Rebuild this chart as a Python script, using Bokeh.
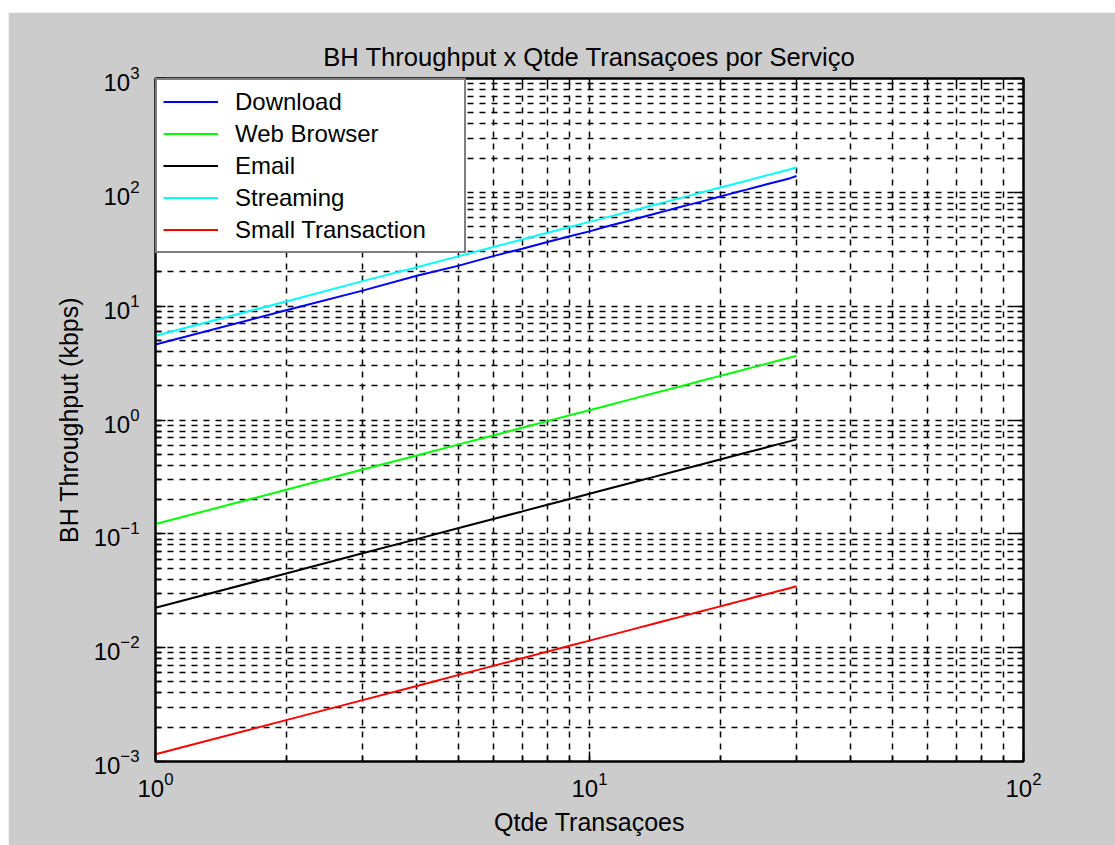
from bokeh.plotting import figure
from bokeh.layouts import column, row
from bokeh.models import LogAxis, FixedTicker, Legend, LegendItem, CustomJSTickFormatter, Spacer
from bokeh.embed import file_html
from bokeh.resources import INLINE

# ---------------- data ----------------
transacoes = list(range(1, 31))
download = [4.6, 9.2, 13.7, 18.5, 22.7, 27.5, 32.0, 36.6, 41.1, 45.4, 50.3, 54.8, 59.6, 64.1, 68.7,
            73.5, 78.0, 82.4, 87.2, 91.8, 96.5, 101.0, 105.6, 110.3, 114.8, 119.5, 124.0, 128.5, 133.2, 139.0]
web_browser = [0.122, 0.244, 0.367, 0.488, 0.611, 0.732, 0.855, 0.977, 1.10, 1.22, 1.343, 1.465, 1.588, 1.71, 1.83,
               1.953, 2.075, 2.198, 2.32, 2.44, 2.563, 2.685, 2.808, 2.93, 3.05, 3.173, 3.295, 3.418, 3.54, 3.67]
email = [0.0224, 0.0449, 0.0675, 0.0899, 0.1124, 0.1351, 0.1574, 0.1799, 0.2026, 0.2249, 0.2474, 0.2701, 0.2923,
         0.3149, 0.3376, 0.3598, 0.3824, 0.4051, 0.4273, 0.4498, 0.4726, 0.4949, 0.5173, 0.5401, 0.5623, 0.5849,
         0.6076, 0.6299, 0.6522, 0.6760]
streaming = [5.5, 11.0, 16.6, 22.0, 27.5, 33.1, 38.5, 44.1, 49.6, 55.0, 60.6, 66.0, 71.5, 77.1, 82.5,
             88.0, 93.6, 99.0, 104.6, 110.1, 115.5, 121.0, 126.6, 132.0, 137.6, 143.0, 148.5, 154.1, 159.5, 165.5]
small_transaction = [0.00116, 0.00231, 0.00346, 0.00461, 0.00577, 0.00692, 0.00807, 0.00923, 0.01038, 0.01153,
                     0.01269, 0.01384, 0.01499, 0.01614, 0.0173, 0.01845, 0.0196, 0.02076, 0.02191, 0.02306,
                     0.02422, 0.02537, 0.02652, 0.02768, 0.02883, 0.02998, 0.03114, 0.03229, 0.03344, 0.0346]

series_names = ["Download", "Web Browser", "Email", "Streaming", "Small Transaction"]
series_colors = ["#0000ff", "#00ff00", "#000000", "#00ffff", "#ff0000"]

x_major_ticks = [1, 10, 100]
y_major_ticks = [1e-3, 1e-2, 1e-1, 1e0, 1e1, 1e2, 1e3]
minor_multipliers = [2, 3, 4, 5, 6, 7, 8, 9]
x_minor_ticks = [m * d for d in x_major_ticks[:-1] for m in minor_multipliers]
y_minor_ticks = [m * d for d in y_major_ticks[:-1] for m in minor_multipliers]

title_text = "BH Throughput x Qtde Transaçoes por Serviço"
x_label = "Qtde Transaçoes"
y_label = "BH Throughput (kbps)"

FONT = "Liberation Sans"
GRAY = "#cccccc"

# ---------------- figure ----------------
p = figure(width=1107, height=833, x_axis_type="log", y_axis_type="log",
           x_range=(1, 100), y_range=(1e-3, 1e3),
           output_backend="svg", toolbar_location=None,
           min_border_left=147, min_border_right=92, min_border_top=66, min_border_bottom=84,
           border_fill_color=GRAY, background_fill_color="white",
           title=title_text)
p.outline_line_color = "black"
p.outline_line_width = 2

p.title.text_font = FONT
p.title.text_font_size = "25.6px"
p.title.text_font_style = "normal"
p.title.text_color = "black"
p.title.align = "center"
p.title.standoff = 15

xt = FixedTicker(ticks=x_major_ticks, minor_ticks=x_minor_ticks)
yt = FixedTicker(ticks=y_major_ticks, minor_ticks=y_minor_ticks)


def style_axis(ax):
    ax.axis_line_color = "black"
    ax.axis_line_width = 2
    ax.major_tick_in = 10
    ax.major_tick_out = 0
    ax.minor_tick_in = 6
    ax.minor_tick_out = 0
    ax.major_tick_line_color = "black"
    ax.major_tick_line_width = 1.5
    ax.minor_tick_line_color = "black"
    ax.minor_tick_line_width = 1.5
    ax.major_label_text_font = FONT
    ax.major_label_text_font_size = "24px"
    ax.major_label_text_color = "black"


xa = p.xaxis[0]
xa.ticker = xt
style_axis(xa)
xa.major_label_standoff = 10
xa.axis_label = x_label
xa.axis_label_text_font = FONT
xa.axis_label_text_font_size = "25px"
xa.axis_label_text_font_style = "normal"
xa.axis_label_text_color = "black"
xa.axis_label_standoff = 8

ya = p.yaxis[0]
ya.ticker = yt
style_axis(ya)
ya.major_label_standoff = 16
ya.axis_label = y_label
ya.axis_label_text_font = FONT
ya.axis_label_text_font_size = "25px"
ya.axis_label_text_font_style = "normal"
ya.axis_label_text_color = "black"
ya.axis_label_standoff = 8

top_ax = LogAxis(ticker=xt, formatter=CustomJSTickFormatter(code="return ''"))
style_axis(top_ax)
top_ax.major_label_text_font_size = "1px"
top_ax.major_label_standoff = 0
p.add_layout(top_ax, "above")

right_ax = LogAxis(ticker=yt, formatter=CustomJSTickFormatter(code="return ''"))
style_axis(right_ax)
right_ax.major_label_text_font_size = "1px"
right_ax.major_label_standoff = 0
p.add_layout(right_ax, "right")

for g, t in ((p.xgrid[0], xt), (p.ygrid[0], yt)):
    g.ticker = t
    g.grid_line_color = "black"
    g.grid_line_width = 1.5
    g.grid_line_dash = "6 6"
    g.minor_grid_line_color = "black"
    g.minor_grid_line_width = 1.5
    g.minor_grid_line_dash = "6 6"

renderers = []
for ys, c in zip([download, web_browser, email, streaming, small_transaction], series_colors):
    renderers.append(p.line(transacoes, ys, line_color=c, line_width=2))

legend = Legend(items=[LegendItem(label=n, renderers=[r]) for n, r in zip(series_names, renderers)],
                location="top_left", margin=0, padding=6, spacing=1,
                label_height=31, glyph_height=31, glyph_width=55, label_standoff=17, label_width=223,
                border_line_color="black", border_line_width=2.5,
                background_fill_color="white", background_fill_alpha=1.0,
                label_text_font=FONT, label_text_font_size="24px", label_text_color="black")
p.add_layout(legend)

layout = column(Spacer(height=12), row(Spacer(width=8), p))

open("out.html", "w").write(file_html(layout, INLINE))
